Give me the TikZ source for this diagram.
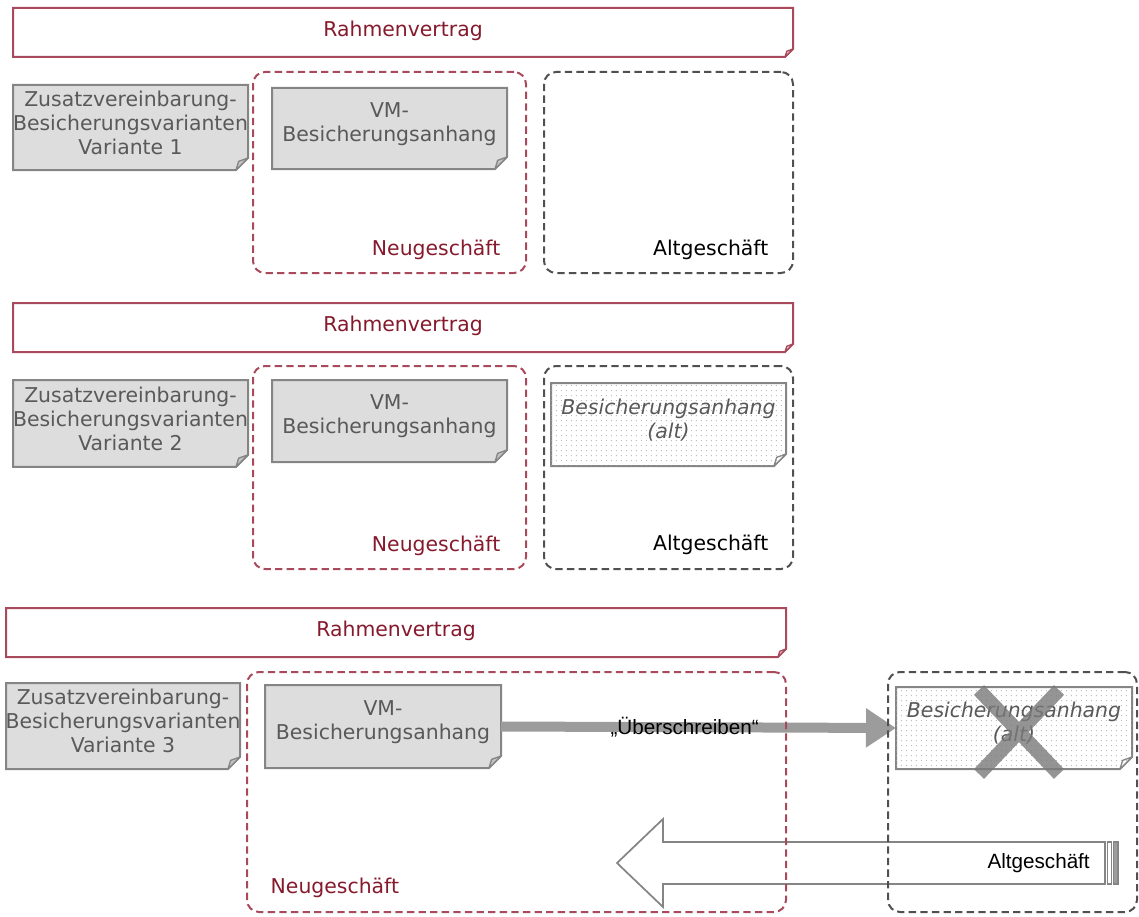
\documentclass[tikz,border=0pt]{standalone}
\usepackage{fontspec}
\setmainfont{DejaVu Sans}
\newfontfamily\smallsans{Liberation Sans}
\usetikzlibrary{patterns,arrows.meta}
\definecolor{rvline}{HTML}{A84A5C}
\definecolor{rvtext}{HTML}{861A2D}
\definecolor{rvfold}{HTML}{EBCBD2}
\definecolor{docfill}{HTML}{DDDDDD}
\definecolor{docline}{HTML}{858585}
\definecolor{docfold}{HTML}{C4C4C4}
\definecolor{doctext}{HTML}{595959}
\definecolor{dashgray}{HTML}{505050}
\definecolor{arrgray}{HTML}{9C9C9C}
\definecolor{xgray}{HTML}{7A7A7A}
\pgfdeclarepatternformonly{sparsedots}{\pgfpointorigin}{\pgfpoint{3.75pt}{3.75pt}}{\pgfpoint{3.75pt}{3.75pt}}{%
  \pgfpathcircle{\pgfpoint{1.2pt}{1.2pt}}{0.5pt}\pgfusepath{fill}}
\newcommand\paper[5]{%
  \path[draw=#4, line width=1.5pt, #3] (#1.north west) -- (#1.north east) -- ([yshift=#2]#1.south east) -- ([xshift=-#2]#1.south east) -- (#1.south west) -- cycle;
  \path[draw=#4, line width=1pt, fill=#5, line join=round] ([yshift=#2]#1.south east) -- ([xshift=-0.78*#2, yshift=0.72*#2]#1.south east) -- ([xshift=-#2]#1.south east) -- cycle;}
\begin{document}
\begin{tikzpicture}[x=0.75pt,y=-0.75pt,
  sheet/.style={inner sep=0pt, outer sep=0pt},
  rvlabel/.style={text=rvtext, font=\fontsize{15.3pt}{18pt}\selectfont},
  doclabel/.style={text=doctext, align=center, font=\fontsize{15.3pt}{18pt}\selectfont},
  oldlabel/.style={text=doctext, align=center, font=\fontsize{15.3pt}{18pt}\selectfont\itshape},
  newzone/.style={draw=rvline, dash pattern=on 5.5pt off 3.2pt, line width=1.5pt, rounded corners=9pt, inner sep=0pt, outer sep=0pt},
  oldzone/.style={newzone, draw=dashgray},
  newlabel/.style={text=rvtext, font=\fontsize{15.3pt}{18pt}\selectfont},
  oldtag/.style={text=black, font=\fontsize{15.3pt}{18pt}\selectfont},
  smalltag/.style={text=black, font=\smallsans\fontsize{15.5pt}{18pt}\selectfont, inner sep=0pt},
  overwrite/.style={draw=arrgray, line width=7.5pt, -{Triangle[length=22.5pt,width=28pt]}},
  hollowarrow/.style={draw=docline, line width=1.3pt, fill=white, line join=miter},
  olddots/.style={pattern=sparsedots, pattern color=black!35}
]
\useasboundingbox (0,0) rectangle (1139,917);

% ---------- Section 1 ----------
\node[sheet, minimum width=585pt, minimum height=36.75pt] (r1) at (403,32.5) {};
\paper{r1}{6pt}{fill=white}{rvline}{rvfold}
\node[rvlabel] (r1t) at ([yshift=1.5pt]r1.center) {Rahmenvertrag};

\node[sheet, minimum width=176.25pt, minimum height=63.75pt] (z1) at (130.5,127.5) {};
\paper{z1}{9pt}{fill=docfill}{docline}{docfold}
\node[doclabel] (z1t) at ([yshift=3.5pt]z1.center) {Zusatzvereinbarung-\\Besicherungsvarianten\\Variante 1};

\node[sheet, minimum width=176.25pt, minimum height=60.75pt] (vm1) at (389.5,128.5) {};
\paper{vm1}{9pt}{fill=docfill}{docline}{docfold}
\node[doclabel] (vm1t) at ([yshift=3.5pt]vm1.center) {VM-\\Besicherungsanhang};

% ---------- Section 2 ----------
\node[sheet, minimum width=585pt, minimum height=36.75pt] (r2) at (403,327.5) {};
\paper{r2}{6pt}{fill=white}{rvline}{rvfold}
\node[rvlabel] (r2t) at ([yshift=1.5pt]r2.center) {Rahmenvertrag};

\node[sheet, minimum width=176.25pt, minimum height=65pt] (z2) at (130.5,423.5) {};
\paper{z2}{9pt}{fill=docfill}{docline}{docfold}
\node[doclabel] (z2t) at ([yshift=3.5pt]z2.center) {Zusatzvereinbarung-\\Besicherungsvarianten\\Variante 2};

\node[sheet, minimum width=176.25pt, minimum height=61.5pt] (vm2) at (389.5,421) {};
\paper{vm2}{9pt}{fill=docfill}{docline}{docfold}
\node[doclabel] (vm2t) at ([yshift=3.5pt]vm2.center) {VM-\\Besicherungsanhang};

\node[sheet, minimum width=176.25pt, minimum height=62.25pt] (alt2) at (668.5,424.5) {};
\paper{alt2}{9pt}{fill=white}{docline}{white}
\fill[olddots] (alt2.north west) -- (alt2.north east) -- ([yshift=9pt]alt2.south east) -- ([xshift=-9pt]alt2.south east) -- (alt2.south west) -- cycle;
\node[oldlabel] (alt2t) at ([yshift=3.5pt]alt2.center) {Besicherungsanhang\\(alt)};

% ---------- Section 3 ----------
\node[sheet, minimum width=585pt, minimum height=36.75pt] (r3) at (396,632.5) {};
\paper{r3}{6pt}{fill=white}{rvline}{rvfold}
\node[rvlabel] (r3t) at ([yshift=1.5pt]r3.center) {Rahmenvertrag};

\node[sheet, minimum width=175.5pt, minimum height=64.5pt] (z3) at (123,726) {};
\paper{z3}{9pt}{fill=docfill}{docline}{docfold}
\node[doclabel] (z3t) at ([yshift=3.5pt]z3.center) {Zusatzvereinbarung-\\Besicherungsvarianten\\Variante 3};

\node[sheet, minimum width=177pt, minimum height=62.25pt] (vm3) at (383,726.5) {};
\paper{vm3}{9pt}{fill=docfill}{docline}{docfold}
\node[doclabel] (vm3t) at ([yshift=3.5pt]vm3.center) {VM-\\Besicherungsanhang};

\node[sheet, minimum width=177pt, minimum height=61.5pt] (alt3) at (1014,728) {};
\paper{alt3}{9pt}{fill=white}{docline}{white}
\fill[olddots] (alt3.north west) -- (alt3.north east) -- ([yshift=9pt]alt3.south east) -- ([xshift=-9pt]alt3.south east) -- (alt3.south west) -- cycle;
\node[oldlabel] (alt3t) at ([yshift=3.5pt]alt3.center) {Besicherungsanhang\\(alt)};

% big hollow arrow (Altgeschaeft)
\coordinate (ha1) at (1105,842);
\coordinate (ha2) at (663,842);
\coordinate (ha3) at (663,819);
\coordinate (hatip) at (617,863);
\coordinate (ha5) at (663,907);
\coordinate (ha6) at (663,884);
\coordinate (ha7) at (1105,884);
\draw[hollowarrow] (ha1) -- (ha2) -- (ha3) -- (hatip) -- (ha5) -- (ha6) -- (ha7) -- cycle;
\draw[draw=docline, line width=1pt, fill=white] (1107.5,842) rectangle (1111.5,884);
\draw[draw=docline, line width=1pt, fill=arrgray] (1113.5,842) rectangle (1118,884);
\node[smalltag, anchor=east] (ha-label) at (1090,863) {Altgeschäft};

% overwrite arrow
\draw[overwrite] (vm3.east) -- (alt3.west) node[smalltag, pos=0.465] (ow) {„Überschreiben“};

% cross over old annex
\draw[xgray, line width=10.5pt, opacity=0.8] (979,690) -- (1059,774) (1059,690) -- (979,774);

% ---------- zones ----------
\node[newzone, minimum width=204.75pt, minimum height=150.75pt] (n1) at (389.5,172.5) {};
\node[oldzone, minimum width=186.75pt, minimum height=150.75pt] (a1) at (668.5,172.5) {};
\node[newzone, minimum width=204.75pt, minimum height=152.25pt] (n2) at (389.5,467.5) {};
\node[oldzone, minimum width=186.75pt, minimum height=152.25pt] (a2) at (668.5,467.5) {};
\node[newzone, minimum width=404.25pt, minimum height=180pt] (n3) at (516.5,792) {};
\node[oldzone, minimum width=186.75pt, minimum height=180pt] (a3) at (1012.5,792) {};

\node[newlabel, anchor=east] (n1t) at (505,250) {Neugeschäft};
\node[oldtag, anchor=east] (a1t) at (773,250) {Altgeschäft};
\node[newlabel, anchor=east] (n2t) at (505,546) {Neugeschäft};
\node[oldtag, anchor=east] (a2t) at (773,545) {Altgeschäft};
\node[newlabel, anchor=west] (n3t) at (266,888) {Neugeschäft};
\end{tikzpicture}
\end{document}
